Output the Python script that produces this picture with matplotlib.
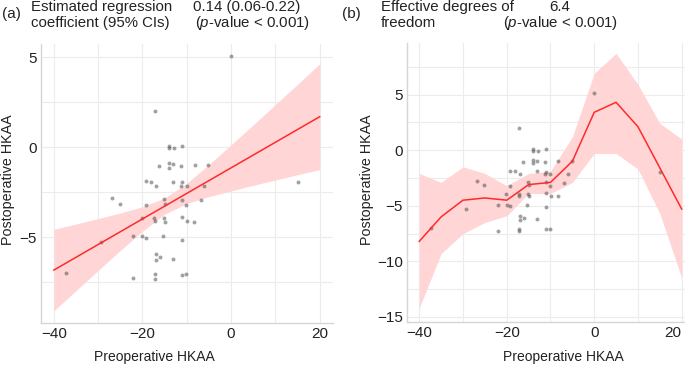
import numpy as np
import matplotlib
matplotlib.use("Agg")
import matplotlib.pyplot as plt

plt.rcParams['font.family'] = ['Liberation Sans', 'DejaVu Sans']
plt.rcParams['mathtext.fontset'] = 'custom'
plt.rcParams['mathtext.rm'] = 'Liberation Sans'
plt.rcParams['mathtext.it'] = 'Liberation Sans:italic'

# scatter data (same patients in both panels)
pre_hkaa = [0.0, -17.2, -14.0, -14.0, -12.9, -11.0, -13.9, -13.0, -13.9, -16.3,
            -11.2, -8.2, -5.1, -19.3, -18.0, -17.0, -13.0, -11.0, -11.2, -10.0,
            -6.1, -15.1, -11.0, -15.0, -19.3, -10.1, -6.9, -26.9, -25.1, -20.1,
            -17.3, -17.1, -15.2, -14.9, -11.0, -9.9, -8.3, -29.3, -22.1, -20.0,
            -19.2, -15.3, -11.0, -17.0, -16.0, -16.9, -13.0, -37.2, -22.1, -17.2,
            -17.2, -11.0, -10.1, 15.0]
post_hkaa = [5.1, 2.0, 0.1, -0.05, -0.05, 0.1, -0.85, -0.95, -1.15, -1.05,
             -1.05, -1.0, -1.0, -1.85, -1.9, -2.15, -1.9, -1.95, -2.15, -2.15,
             -2.15, -2.85, -2.9, -3.15, -3.2, -3.2, -2.95, -2.8, -3.15, -3.9,
             -3.95, -4.1, -3.95, -4.15, -3.85, -4.1, -4.15, -5.25, -4.9, -4.9,
             -5.05, -4.95, -5.15, -5.95, -6.1, -6.25, -6.2, -7.0, -7.25, -7.05,
             -7.3, -7.1, -7.05, -1.95]

# (a) linear fit with 95% CI
lin_x = [-40, 20]
lin_y = [-6.82, 1.70]
ci_x = [-40, -35, -30, -25, -20, -15, -10, -5, 0, 5, 10, 15, 20]
ci_upper = [-4.56, -4.26, -3.96, -3.65, -3.30, -2.82, -2.00, -0.96, 0.14, 1.25, 2.38, 3.50, 4.64]
ci_lower = [-9.08, -7.96, -6.84, -5.73, -4.66, -3.72, -3.12, -2.74, -2.42, -2.11, -1.82, -1.52, -1.24]

# (b) smooth fit with 95% CI
gam_x = [-40, -35, -30, -25, -20, -15, -10, -5, 0, 5, 10, 15, 20]
gam_y = [-8.2, -6.0, -4.5, -4.3, -4.5, -3.1, -2.9, -1.0, 3.4, 4.3, 2.1, -1.6, -5.3]
gam_upper = [-2.1, -2.9, -1.5, -2.1, -3.2, -2.1, -1.9, 1.2, 6.9, 8.7, 5.9, 2.4, 1.0]
gam_lower = [-14.2, -9.3, -7.5, -6.5, -5.9, -3.9, -3.9, -2.9, -0.3, -0.3, -1.7, -5.7, -11.5]

W, H = 685, 367
fig = plt.figure(figsize=(W / 100, H / 100), dpi=100)


def box(l, t, r, b):
    return [l / W, 1 - b / H, (r - l) / W, (b - t) / H]


def style(ax, yticks, ygrid, xlim, ylim):
    ax.set_xlim(*xlim)
    ax.set_ylim(*ylim)
    ax.set_xticks([-40, -20, 0, 20])
    ax.set_xticks([-30, -10, 10], minor=True)
    ax.set_yticks(yticks)
    ax.set_yticks(ygrid, minor=True)
    ax.grid(True, which='both', color='#ececec', lw=0.8)
    ax.set_axisbelow(True)
    for s in ['top', 'right']:
        ax.spines[s].set_visible(False)
    for s in ['left', 'bottom']:
        ax.spines[s].set_color('#d6d6d6')
        ax.spines[s].set_linewidth(1.0)
    ax.tick_params(which='both', length=0, labelsize=11, pad=3, colors='#222222')


fill_c = '#ffd5d5'
line_c = '#ff2a2a'
dot_c = '#444444'

# panel (a)
ax1 = fig.add_axes(box(41, 44, 333, 323))
ax1.fill_between(ci_x, ci_lower, ci_upper, color=fill_c, lw=0)
ax1.plot(lin_x, lin_y, color=line_c, lw=1.1)
ax1.scatter(pre_hkaa, post_hkaa, s=8, color=dot_c, alpha=0.5, lw=0)
style(ax1, [-5, 0, 5], [-7.5, -2.5, 2.5], (-42.9, 23.0), (-9.76, 5.74))

# panel (b)
ax2 = fig.add_axes(box(407, 43, 685, 322))
ax2.fill_between(gam_x, gam_lower, gam_upper, color=fill_c, lw=0)
ax2.plot(gam_x, gam_y, color=line_c, lw=1.1)
ax2.scatter(pre_hkaa, post_hkaa, s=8, color=dot_c, alpha=0.5, lw=0)
style(ax2, [-15, -10, -5, 0, 5], [-12.5, -7.5, -2.5, 2.5, 7.5], (-42.8, 20.75), (-15.45, 9.63))
# last label sits against the right edge
ax2.xaxis.get_major_ticks()[-1].label1.set_horizontalalignment('right')


def ftext(x, y, s, size=10.8, **kw):
    fig.text(x / W, 1 - y / H, s, va='center', fontsize=size, color='#222222', **kw)


ftext(2, 14, '(a)', size=11)
ftext(31, 7, 'Estimated regression')
ftext(31, 23, 'coefficient (95% CIs)')
ftext(193, 7, '0.14 (0.06-0.22)')
ftext(195, 23, r'($\mathit{p}$-value < 0.001)')
ftext(342, 14, '(b)', size=11)
ftext(381, 7, 'Effective degrees of')
ftext(381, 23, 'freedom')
ftext(549, 7, '6.4')
ftext(503, 23, r'($\mathit{p}$-value < 0.001)')

ftext(154, 357, 'Preoperative HKAA', size=10, ha='center')
ftext(563, 357, 'Preoperative HKAA', size=10, ha='center')
ftext(8, 180, 'Postoperative HKAA', size=10.3, ha='center', rotation=90)
ftext(367, 180, 'Postoperative HKAA', size=10.3, ha='center', rotation=90)

fig.savefig('out.png', dpi=100)
